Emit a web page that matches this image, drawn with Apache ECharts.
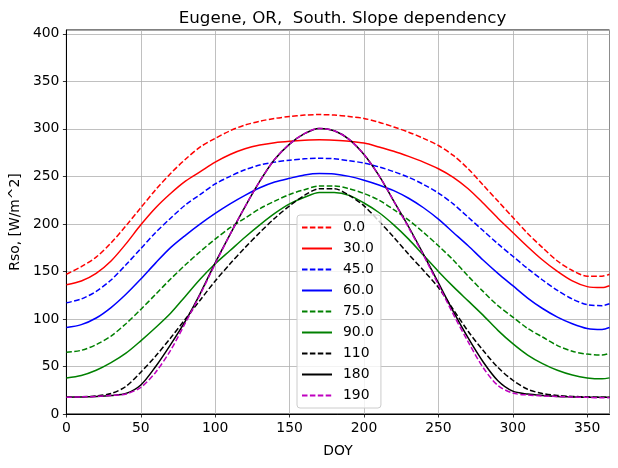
<!DOCTYPE html>
<html>
<head>
<meta charset="utf-8">
<script src="https://cdn.jsdelivr.net/npm/echarts@6/dist/echarts.min.js"></script>
<style>
html,body{margin:0;padding:0;background:#fff;}
#chart{width:618px;height:468px;}
</style>
</head>
<body>
<div id="chart"></div>
<script>
const doy = [0,10,20,30,40,50,60,70,80,90,100,110,120,130,140,150,160,170,180,190,200,210,220,230,240,250,260,270,280,290,300,310,320,330,340,350,360,365];
const s0   = [147,155,165,180,198,217,236,253,268,281,290,298,304,308,311,313,314.5,315,314.5,313,311,307,302,296.5,290,282.5,272,258,241,224,207,190,175,161,151,145,145,147];
const s30  = [136,140,148,161,179,199,217,232,245,255,265,273,279,283,285.5,287,288,288.5,288,287,285,281,276.5,271,265,258,249,237,222,206,191,176,162,150,140,134,133,135];
const s45  = [117,121,129,141,157,174,191,206,220,231,242,250,257,262,265,267,268.5,269,268.5,266.5,264,260,255,249,241.5,232.5,221,207,193,179,166,153,141,130,121,115,114,116];
const s60  = [91,94,101,112,126,142,159,175,188,200,211,221,230,238,244,248,251.5,253,252.5,250,246,241,235,227,217,205,191,177,162,148,135,122,111,102,95,90,89,91];
const s75  = [65,67,73,82,95,110,126,142,157,171,184,196,206,216,224,231,236,240,240,237,232,225,215,204,191,177,162,145,129,114,102,90,81,72,66,63,62,64];
const s90  = [38,40.5,46,54,64,77,91,106,124,142,158,172,186,199,211,221,228,233,233,230,222,212,199,184,167,150,134,119,104,88,74,62,53,46,41,38,37,38];
const s110 = [17.5,18,19,21.5,29,44,61,80,100,120,140,158,175,191,206,219,230,237,237,230,219,203,186,168,151,133,110,87,67,49,35.5,26,21.5,19.5,18.5,18,17.5,17.5];
const s180 = [17.5,18,18.5,19.5,21.5,30.5,50,73,98,127,159,189,218,245,268,284,295,300.5,298,289,273,251,224,197,168,138,108,80,55,35,24,21,19.5,18.5,18,17.5,17.5,17.5];
const s190 = [17.5,18,18.5,19.5,21,28,44,67,96,126,158,189,218,245,268,284,295,300.5,298,289,273,251,224,196,167,136,105,76,49,30,22,20,19,18.5,18,17.5,17,17];

const names = ['0.0','30.0','45.0','60.0','75.0','90.0','110','180','190'];
const values = [s0,s30,s45,s60,s75,s90,s110,s180,s190];
const colors = ['#ff0000','#ff0000','#0000ff','#0000ff','#008000','#008000','#000000','#000000','#bf00bf'];
const dashed = [true,false,true,false,true,false,true,false,true];

const font = 'DejaVu Sans';
const chart = echarts.init(document.getElementById('chart'), null, {renderer:'canvas'});
const series = names.map((n,i)=>({
  name:n, type:'line', symbol:'none', smooth:0.3,
  data: doy.map((d,j)=>[d, values[i][j]]),
  lineStyle:{color:colors[i], width:1.5, type: dashed[i] ? [5.5,2.4] : 'solid', cap:'butt'},
  itemStyle:{color:colors[i]},
  emphasis:{disabled:true}
}));
chart.setOption({
  animation:false,
  backgroundColor:'#ffffff',
  title:{text:'Eugene, OR,  South. Slope dependency', left:337.5, top:5, textAlign:'center',
    textStyle:{fontFamily:font, fontSize:16.7, fontWeight:'normal', color:'#000'}},
  grid:{left:66, right:8.5, top:30, bottom:54, show:true, borderColor:'#000', borderWidth:1, containLabel:false},
  xAxis:{type:'value', min:0, max:365, interval:50,
    name:'DOY', nameLocation:'middle', nameGap:30,
    nameTextStyle:{fontFamily:font, fontSize:13.9, color:'#000'},
    axisLine:{show:true, lineStyle:{color:'#000', width:1}},
    axisTick:{show:true, length:3.5, lineStyle:{color:'#000', width:0.8}},
    axisLabel:{fontFamily:font, fontSize:13.9, color:'#000', margin:7, showMaxLabel:false},
    splitLine:{show:true, lineStyle:{color:'#b0b0b0', width:0.8}}},
  yAxis:{type:'value', min:0, max:404, interval:50,
    name:'Rso, [W/m^2]', nameLocation:'middle', nameGap:44, nameRotate:90,
    nameTextStyle:{fontFamily:font, fontSize:13.9, color:'#000'},
    axisLine:{show:true, lineStyle:{color:'#000', width:1}},
    axisTick:{show:true, length:3.5, lineStyle:{color:'#000', width:0.8}},
    axisLabel:{fontFamily:font, fontSize:13.9, color:'#000', margin:7, showMaxLabel:false},
    splitLine:{show:true, lineStyle:{color:'#b0b0b0', width:0.8}}},
  legend:{orient:'vertical', left:297, top:215, itemWidth:30, itemHeight:14, itemGap:7,
    padding:[5.5,7,5.5,4], backgroundColor:'rgba(255,255,255,0.8)', borderColor:'#cccccc',
    borderWidth:1, borderRadius:3,
    itemStyle:{color:'rgba(0,0,0,0)', borderColor:'rgba(0,0,0,0)', borderWidth:0, opacity:0},
    textStyle:{fontFamily:font, fontSize:13.9, color:'#000', padding:[0,0,0,6]},
    data:names},
  series:series
});
</script>
</body>
</html>
